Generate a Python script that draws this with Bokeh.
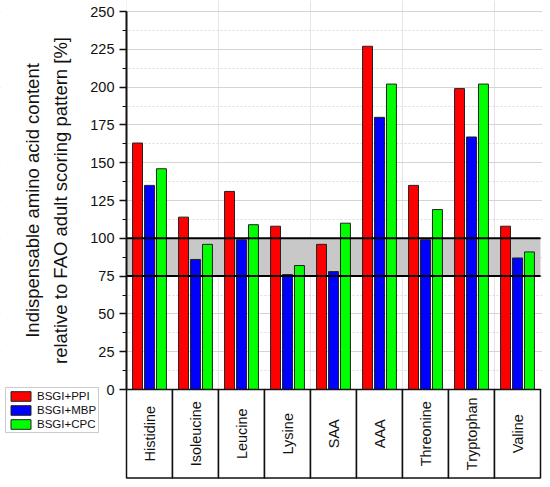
import math
from bokeh.plotting import figure
from bokeh.models import (ColumnDataSource, Range1d, SingleIntervalTicker, LinearAxis, Grid,
                          BoxAnnotation, Legend, LegendItem)
from bokeh.transform import dodge
from bokeh.core.properties import value
from bokeh.embed import file_html
from bokeh.resources import INLINE

# ---- data ----
categories = ["Histidine", "Isoleucine", "Leucine", "Lysine", "SAA", "AAA",
              "Threonine", "Tryptophan", "Valine"]
series_names = ["BSGI+PPI", "BSGI+MBP", "BSGI+CPC"]
ppi = [163, 114, 131, 108, 96, 227, 135, 199, 108]
mbp = [135, 86, 99, 76, 78, 180, 99, 167, 87]
cpc = [146, 96, 109, 82, 110, 202, 119, 202, 91]
band_low, band_high = 75, 100
y_max = 250
y_tick_interval = 25

# ---- layout / style ----
FONT = "Liberation Sans"
W, H = 542, 479
colors = ["#ff0000", "#0000ff", "#00ff00"]
offsets = [-0.26, 0.0, 0.26]
bar_w = 0.216
unit_px = 46.0            # pixels per category
axis_px = 126             # pixel position of the y axis
y_px_top, y_px_zero = 11, 389
py = (y_px_zero - y_px_top) / y_max       # pixels per y unit
table_depth = 58.5        # y units below zero used by the category table

n = len(categories)
xc = [i + 0.5 for i in range(n)]
src = ColumnDataSource(dict(xc=xc, cat=categories, ppi=ppi, mbp=mbp, cpc=cpc,
                            ty=[-table_depth / 2] * n))

p = figure(width=W, height=H, output_backend="svg", toolbar_location=None,
           x_range=Range1d(-axis_px / unit_px, (W - axis_px) / unit_px),
           y_range=Range1d(-(H - y_px_zero) / py, y_max + y_px_top / py),
           x_axis_location=None, y_axis_location=None,
           min_border_left=0, min_border_right=0, min_border_top=0, min_border_bottom=0)
p.outline_line_color = None
p.background_fill_color = "white"
p.border_fill_color = "white"

ticker = SingleIntervalTicker(interval=y_tick_interval, num_minor_ticks=2)

# grid
grid = Grid(dimension=1, ticker=ticker, bounds=(0, y_max),
            grid_line_color="#d4d4d4", grid_line_width=1,
            minor_grid_line_color="#dcdcdc", minor_grid_line_dash="2 2")
p.add_layout(grid)
# keep the grid to the right of the axis
p.add_layout(BoxAnnotation(right=0, fill_color="white", fill_alpha=1.0, line_color=None,
                           level="underlay"))
# gray reference band
p.add_layout(BoxAnnotation(left=0, right=n, bottom=band_low, top=band_high,
                           fill_color="#c8c8c8", fill_alpha=1.0, line_color=None,
                           level="underlay"))

# y axis placed at x = 0 inside the frame
ax = LinearAxis(fixed_location=0, ticker=ticker, bounds=(0, y_max))
ax.axis_line_width = 2
ax.axis_line_color = "#111111"
ax.major_tick_line_width = 1.5
ax.major_tick_line_color = "#111111"
ax.minor_tick_line_color = "#111111"
ax.major_tick_in = 0
ax.major_tick_out = 7
ax.minor_tick_in = 0
ax.minor_tick_out = 4
ax.major_label_text_font = FONT
ax.major_label_text_font_size = "14.5px"
ax.major_label_text_color = "#111111"
ax.major_label_standoff = 5
ax.axis_label = "Indispensable amino acid content\nrelative to FAO adult scoring pattern [%]"
ax.axis_label_text_font = FONT
ax.axis_label_text_font_size = "18.5px"
ax.axis_label_text_font_style = "normal"
ax.axis_label_text_color = "#111111"
ax.axis_label_text_line_height = 1.35
ax.axis_label_standoff = 16
p.add_layout(ax, "left")

# bars
renderers = []
for col, c, off in zip(["ppi", "mbp", "cpc"], colors, offsets):
    r = p.vbar(x=dodge("xc", off), top=col, bottom=0, width=bar_w, source=src,
               fill_color=c, line_color="#222222", line_width=1)
    renderers.append(r)

# band limit lines
p.segment(x0=0, x1=n, y0=[band_low, band_high], y1=[band_low, band_high],
          line_color="black", line_width=2)

# category table below zero
p.rect(x="xc", y="ty", width=1, height=table_depth, source=src,
       fill_color="white", line_color="#111111", line_width=1.5)
p.text(x="xc", y="ty", text="cat", source=src, angle=math.pi / 2,
       text_align="center", text_baseline="middle",
       text_font=value(FONT), text_font_size=value("14.5px"), text_color="#111111")

# legend
legend = Legend(items=[LegendItem(label=s, renderers=[r]) for s, r in zip(series_names, renderers)],
                location=(5, 46), orientation="vertical",
                glyph_width=25, glyph_height=12, label_height=12, spacing=2, padding=2,
                margin=0, label_standoff=4,
                label_text_font=FONT, label_text_font_size="11.5px", label_text_color="#111111",
                border_line_color="#999999", border_line_width=1.5,
                background_fill_color="white", background_fill_alpha=1.0)
p.add_layout(legend, "center")

open("out.html", "w").write(file_html(p, INLINE))
